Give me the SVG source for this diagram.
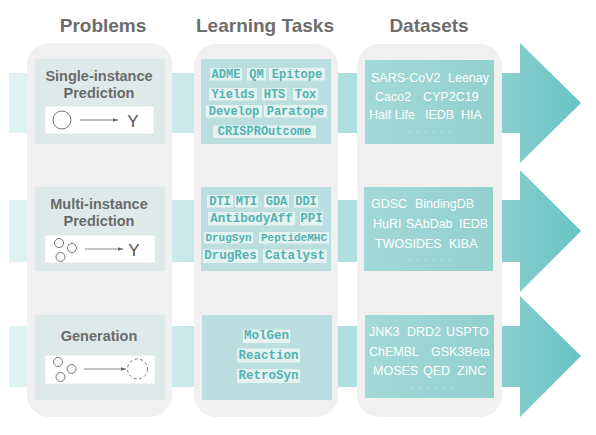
<svg xmlns="http://www.w3.org/2000/svg" width="596" height="435" viewBox="0 0 596 435">
<defs>
<linearGradient id="ag" gradientUnits="userSpaceOnUse" x1="9" y1="0" x2="581" y2="0">
<stop offset="0" stop-color="#e0f3f3"/>
<stop offset="0.3" stop-color="#c9e9ea"/>
<stop offset="0.59" stop-color="#b0dfdf"/>
<stop offset="0.88" stop-color="#85cdcd"/>
<stop offset="1" stop-color="#68c3c3"/>
</linearGradient>
<linearGradient id="dg" x1="0" y1="0" x2="1" y2="0">
<stop offset="0" stop-color="#a2d8d8"/>
<stop offset="1" stop-color="#93d0d0"/>
</linearGradient>
<marker id="ah" viewBox="0 0 6 6" refX="6" refY="3" markerWidth="5" markerHeight="5" orient="auto" markerUnits="userSpaceOnUse">
<path d="M0,0.8 L6,3 L0,5.2 z" fill="#666"/>
</marker>
<style>
.hdr{font-family:"Liberation Sans",Arial,sans-serif;font-weight:bold;font-size:19px;fill:#6d6d6d;text-anchor:middle}
.col{fill:#f0f0f0}
.pb{fill:#deeaea}
.pt{font-family:"Liberation Sans",Arial,sans-serif;font-weight:bold;font-size:14.5px;fill:#6b6b6b;text-anchor:middle}
.wb{fill:#ffffff;stroke:#e4e4e4;stroke-width:0.8}
.ic{fill:none;stroke:#666;stroke-width:0.9}
.icd{fill:none;stroke:#666;stroke-width:0.9;stroke-dasharray:3 2.5}
.ln{stroke:#666;stroke-width:0.8;marker-end:url(#ah)}
.y{font-family:"Liberation Sans",Arial,sans-serif;font-size:17px;fill:#555;text-anchor:middle}
.tb{fill:#bbdfe0}
.hl{fill:#e4f2f2}
.tt{font-family:"Liberation Mono","Courier New",monospace;font-weight:bold;fill:#52b2b2;text-anchor:middle;dominant-baseline:central}
.db{fill:url(#dg)}
.dt{font-family:"Liberation Sans",Arial,sans-serif;font-size:12.5px;fill:#ffffff}
.dots{font-family:"Liberation Sans",Arial,sans-serif;font-size:9px;fill:#ffffff;letter-spacing:5.5px}
</style>
</defs>

<g id="connectors">
<path d="M9,73 H520 V43 L581,103 L520,163 V133 H9 Z" fill="url(#ag)"/>
<path d="M9,200 H520 V170 L581,231 L520,292 V262 H9 Z" fill="url(#ag)"/>
<path d="M9,326 H520 V296 L581,356 L520,417 V387 H9 Z" fill="url(#ag)"/>
</g>

<g id="headers">
<text class="hdr" x="103" y="32">Problems</text>
<text class="hdr" x="265" y="32">Learning Tasks</text>
<text class="hdr" x="429" y="32">Datasets</text>
</g>

<g id="columns">
<rect class="col" x="27" y="43" width="145" height="374" rx="22"/>
<rect class="col" x="194" y="44" width="144" height="373" rx="22"/>
<rect class="col" x="357" y="44" width="145" height="373" rx="22"/>
</g>

<g id="problem-single">
<rect class="pb" x="35" y="59" width="130" height="85"/>
<text class="pt" x="99" y="81">Single-instance</text>
<text class="pt" x="99" y="98">Prediction</text>
<rect class="wb" x="45" y="106" width="109" height="28"/>
<circle class="ic" cx="62" cy="120" r="9"/>
<line class="ln" x1="80" y1="120" x2="118" y2="120"/>
<text class="y" x="133" y="127">Y</text>
</g>

<g id="problem-multi">
<rect class="pb" x="35" y="187" width="130" height="84"/>
<text class="pt" x="99" y="209">Multi-instance</text>
<text class="pt" x="99" y="226">Prediction</text>
<rect class="wb" x="45" y="235" width="110" height="28"/>
<circle class="ic" cx="59" cy="243" r="4.5"/>
<circle class="ic" cx="72" cy="248" r="4.5"/>
<circle class="ic" cx="60.5" cy="257" r="4.5"/>
<line class="ln" x1="85" y1="249" x2="123" y2="249"/>
<text class="y" x="134" y="256">Y</text>
</g>

<g id="problem-generation">
<rect class="pb" x="35" y="315" width="130" height="85"/>
<text class="pt" x="99" y="341">Generation</text>
<rect class="wb" x="45" y="355" width="110" height="29"/>
<circle class="ic" cx="58" cy="362" r="4.5"/>
<circle class="ic" cx="71.5" cy="369" r="4.5"/>
<circle class="ic" cx="60.5" cy="377" r="4.5"/>
<line class="ln" x1="84" y1="369" x2="126" y2="369"/>
<circle class="icd" cx="137.5" cy="369" r="10"/>
</g>

<g id="tasks-single">
<rect class="tb" x="201" y="59" width="130" height="85"/>
<rect class="hl" x="210" y="68" width="32" height="12.5"/><text class="tt" x="226" y="74.5" font-size="12">ADME</text>
<rect class="hl" x="247" y="68" width="19" height="12.5"/><text class="tt" x="256.5" y="74.5" font-size="12">QM</text>
<rect class="hl" x="269" y="68" width="56" height="12.5"/><text class="tt" x="297" y="74.5" font-size="12">Epitope</text>
<rect class="hl" x="209" y="88" width="48" height="12.5"/><text class="tt" x="233" y="94.5" font-size="12">Yields</text>
<rect class="hl" x="262" y="88" width="25" height="12.5"/><text class="tt" x="274.5" y="94.5" font-size="12">HTS</text>
<rect class="hl" x="293" y="88" width="25" height="12.5"/><text class="tt" x="305.5" y="94.5" font-size="12">Tox</text>
<rect class="hl" x="206" y="105" width="56" height="12.5"/><text class="tt" x="234" y="111.5" font-size="12">Develop</text>
<rect class="hl" x="264" y="105" width="63" height="12.5"/><text class="tt" x="295.5" y="111.5" font-size="12">Paratope</text>
<rect class="hl" x="213" y="125.5" width="103" height="12.5"/><text class="tt" x="264.5" y="132" font-size="12">CRISPROutcome</text>
</g>

<g id="tasks-multi">
<rect class="tb" x="201" y="187" width="130" height="84"/>
<rect class="hl" x="207" y="195" width="26" height="12.5"/><text class="tt" x="220" y="201.5" font-size="12">DTI</text>
<rect class="hl" x="235" y="195" width="23" height="12.5"/><text class="tt" x="246.5" y="201.5" font-size="12">MTI</text>
<rect class="hl" x="264" y="195" width="25" height="12.5"/><text class="tt" x="276.5" y="201.5" font-size="12">GDA</text>
<rect class="hl" x="294" y="195" width="24" height="12.5"/><text class="tt" x="306" y="201.5" font-size="12">DDI</text>
<rect class="hl" x="208" y="212" width="87" height="13.5"/><text class="tt" x="251.5" y="219" font-size="12.5">AntibodyAff</text>
<rect class="hl" x="300" y="212" width="23" height="13.5"/><text class="tt" x="311.5" y="219" font-size="12.5">PPI</text>
<rect class="hl" x="204" y="232" width="49" height="11.5"/><text class="tt" x="228.5" y="237.8" font-size="11">DrugSyn</text>
<rect class="hl" x="259" y="232" width="70" height="11.5"/><text class="tt" x="294" y="237.8" font-size="11">PeptideMHC</text>
<rect class="hl" x="203" y="249.5" width="55" height="13.5"/><text class="tt" x="230.5" y="256.3" font-size="12.5">DrugRes</text>
<rect class="hl" x="263" y="249.5" width="64" height="13.5"/><text class="tt" x="295" y="256.3" font-size="12.5">Catalyst</text>
</g>

<g id="tasks-generation">
<rect class="tb" x="202" y="315" width="130" height="85"/>
<rect class="hl" x="243" y="329.5" width="47" height="13.5"/><text class="tt" x="266.5" y="336.3" font-size="12.5">MolGen</text>
<rect class="hl" x="237" y="348.5" width="63" height="14"/><text class="tt" x="268.5" y="355.5" font-size="12.5">Reaction</text>
<rect class="hl" x="237" y="369" width="63" height="14"/><text class="tt" x="268.5" y="376" font-size="12.5">RetroSyn</text>
</g>

<g id="datasets-single">
<rect class="db" x="365" y="60" width="129" height="84"/>
<text class="dt" x="371" y="82">SARS-CoV2</text>
<text class="dt" x="448" y="82">Leenay</text>
<text class="dt" x="375" y="101">Caco2</text>
<text class="dt" x="423" y="101">CYP2C19</text>
<text class="dt" x="369" y="119">Half Life</text>
<text class="dt" x="425" y="119">IEDB</text>
<text class="dt" x="461" y="119">HIA</text>
<text class="dots" x="408" y="132">......</text>
</g>

<g id="datasets-multi">
<rect class="db" x="364" y="187" width="129" height="84"/>
<text class="dt" x="371" y="208">GDSC</text>
<text class="dt" x="415" y="208">BindingDB</text>
<text class="dt" x="373" y="228">HuRI</text>
<text class="dt" x="406" y="228">SAbDab</text>
<text class="dt" x="459" y="228">IEDB</text>
<text class="dt" x="375" y="248">TWOSIDES</text>
<text class="dt" x="449" y="248">KIBA</text>
<text class="dots" x="408" y="261">......</text>
</g>

<g id="datasets-generation">
<rect class="db" x="365" y="315" width="129" height="83"/>
<text class="dt" x="369" y="336">JNK3</text>
<text class="dt" x="407" y="336">DRD2</text>
<text class="dt" x="446" y="336">USPTO</text>
<text class="dt" x="369" y="356">ChEMBL</text>
<text class="dt" x="431" y="356">GSK3Beta</text>
<text class="dt" x="373" y="375">MOSES</text>
<text class="dt" x="423" y="375">QED</text>
<text class="dt" x="457" y="375">ZINC</text>
<text class="dots" x="410" y="388">......</text>
</g>
</svg>
